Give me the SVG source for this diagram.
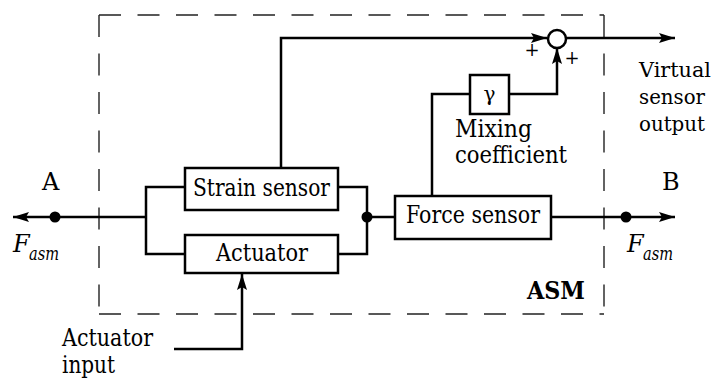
<svg xmlns="http://www.w3.org/2000/svg" width="714" height="380" viewBox="0 0 714 380">
<defs>
<marker id="arr" markerUnits="userSpaceOnUse" markerWidth="18" markerHeight="12" refX="16" refY="5" orient="auto">
<path d="M0,0 L16,5 L0,10 L3,5 z" fill="#000"/>
</marker>
<style>
.ln{fill:none;stroke:#000;stroke-width:2.5;}
.bx{fill:#fff;stroke:#000;stroke-width:2.5;}
.dash{fill:none;stroke:#222;stroke-width:1.4;stroke-dasharray:22 16.5;}
.t{font-family:'DejaVu Serif','Liberation Serif',serif;font-size:24px;fill:#000;}
.c{text-anchor:middle;}
.it{font-style:italic;}
.sub{font-style:italic;font-size:18px;}
.pl{font-size:18px;text-anchor:middle;}
.b{font-weight:bold;}
.vo{font-size:21px;}
.dot{fill:#000;}
</style>
</defs>
<rect width="714" height="380" fill="#fff"/>
<g id="asm-boundary">
<path class="dash" d="M99,15 H604"/>
<path class="dash" d="M99,15 V314"/>
<path class="dash" d="M99,314 H604"/>
<path class="dash" d="M604,15 V314"/>
<text x="527" y="299" class="t b" textLength="58" lengthAdjust="spacingAndGlyphs">ASM</text>
</g>
<g id="connectors">
<path class="ln" d="M281,168 V38 H547" marker-end="url(#arr)"/>
<path class="ln" d="M566,38 H675" marker-end="url(#arr)"/>
<path class="ln" d="M432,196 V94 H470"/>
<path class="ln" d="M509,94 H557 V48" marker-end="url(#arr)"/>
<path class="ln" d="M185,187 H146 V254 H185"/>
<path class="ln" d="M146,217 H13" marker-end="url(#arr)"/>
<path class="ln" d="M338,187 H367 V254 H338"/>
<path class="ln" d="M367,217 H395"/>
<path class="ln" d="M551,217 H675" marker-end="url(#arr)"/>
<path class="ln" d="M174,349 H242 V274" marker-end="url(#arr)"/>
<circle class="dot" cx="55" cy="217" r="5.5"/>
<circle class="dot" cx="367" cy="217" r="5.5"/>
<circle class="dot" cx="626" cy="217" r="5.5"/>
</g>
<g id="sum">
<circle cx="557" cy="39" r="9" fill="#fff" stroke="#000" stroke-width="2.5"/>
<text x="532" y="56" class="t pl">+</text>
<text x="572" y="64" class="t pl">+</text>
</g>
<g id="strain-sensor">
<rect class="bx" x="185" y="168" width="153" height="42"/>
<text x="193" y="196" class="t" textLength="137" lengthAdjust="spacingAndGlyphs">Strain sensor</text>
</g>
<g id="actuator">
<rect class="bx" x="185" y="235" width="153" height="38"/>
<text x="216" y="261" class="t" textLength="92" lengthAdjust="spacingAndGlyphs">Actuator</text>
</g>
<g id="force-sensor">
<rect class="bx" x="395" y="196" width="156" height="43"/>
<text x="406" y="223" class="t" textLength="134" lengthAdjust="spacingAndGlyphs">Force sensor</text>
</g>
<g id="gamma">
<rect class="bx" x="470" y="75" width="39" height="39"/>
<text x="489.5" y="101" class="t c" style="font-size:20px">γ</text>
<text x="455" y="137" class="t" textLength="77" lengthAdjust="spacingAndGlyphs">Mixing</text>
<text x="455" y="163" class="t" textLength="112" lengthAdjust="spacingAndGlyphs">coefficient</text>
</g>
<g id="port-a">
<text x="42" y="190" class="t">A</text>
<text x="13" y="252" class="t it">F</text>
<text x="29" y="260" class="t sub" textLength="30" lengthAdjust="spacingAndGlyphs">asm</text>
</g>
<g id="port-b">
<text x="662" y="190" class="t">B</text>
<text x="627" y="252" class="t it">F</text>
<text x="643" y="260" class="t sub" textLength="30" lengthAdjust="spacingAndGlyphs">asm</text>
</g>
<g id="virtual-output">
<text x="639" y="77" class="t vo" textLength="72" lengthAdjust="spacingAndGlyphs">Virtual</text>
<text x="639" y="104" class="t vo" textLength="66" lengthAdjust="spacingAndGlyphs">sensor</text>
<text x="639" y="131" class="t vo" textLength="66" lengthAdjust="spacingAndGlyphs">output</text>
</g>
<g id="actuator-input">
<text x="62" y="346" class="t" textLength="91" lengthAdjust="spacingAndGlyphs">Actuator</text>
<text x="62" y="373" class="t" textLength="53" lengthAdjust="spacingAndGlyphs">input</text>
</g>
</svg>
